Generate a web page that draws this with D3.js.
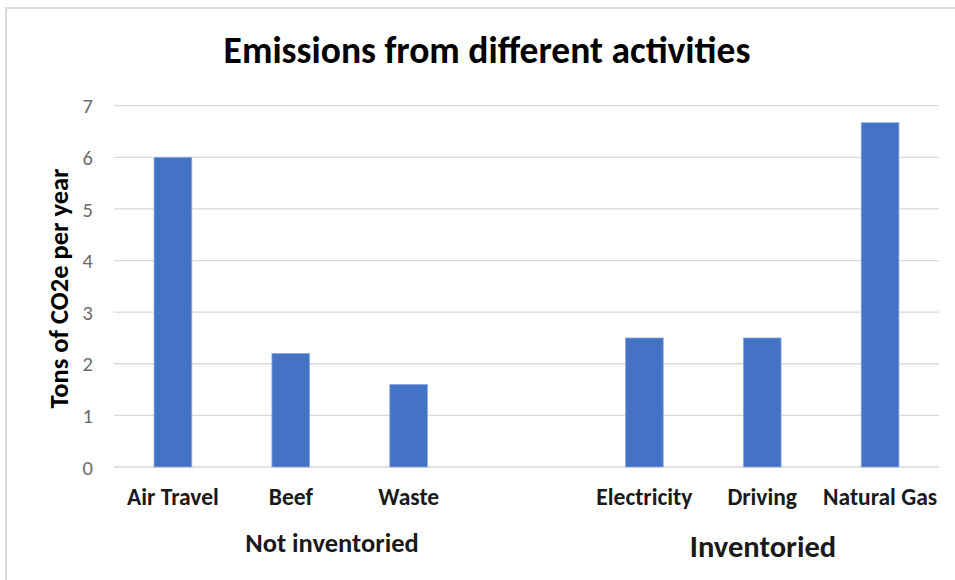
<!DOCTYPE html>
<html>
<head>
<meta charset="utf-8">
<script src="https://cdn.jsdelivr.net/npm/d3@7"></script>
<style>
  html, body { margin: 0; padding: 0; background: #fff; }
  svg text { font-family: Carlito, Calibri, Lato, "Open Sans", sans-serif; }
</style>
</head>
<body>
<svg id="chart" width="955" height="580"></svg>
<script>
// Emissions per activity, tons CO2e per year
const categories = ["Air Travel", "Beef", "Waste", "", "Electricity", "Driving", "Natural Gas"];
const values = [6.0, 2.2, 1.6, null, 2.5, 2.5, 6.67];
const groups = ["Not inventoried", "Inventoried"];
const yTicks = [0, 1, 2, 3, 4, 5, 6, 7];

const svg = d3.select("#chart");
const W = 955, H = 580;
const plot = { left: 114, right: 939, top: 105.7, bottom: 467 };

// chart frame
svg.append("rect")
  .attr("x", 6).attr("y", 8)
  .attr("width", W + 10).attr("height", H + 10)
  .attr("fill", "#fff")
  .attr("stroke", "#d9d9d9").attr("stroke-width", 2);

const x = d3.scaleBand()
  .domain(categories.map((c, i) => i))
  .range([plot.left, plot.right])
  .paddingInner(0.68).paddingOuter(0.34);

const y = d3.scaleLinear().domain([0, 7]).range([plot.bottom, plot.top]);

// gridlines
svg.append("g")
  .selectAll("line")
  .data(yTicks)
  .join("line")
  .attr("x1", plot.left).attr("x2", plot.right)
  .attr("y1", d => y(d)).attr("y2", d => y(d))
  .attr("stroke", "#d9d9d9").attr("stroke-width", 1.3);

// y axis tick labels
const yAxis = d3.axisLeft(y).tickValues(yTicks).tickFormat(d3.format("d")).tickSize(0).tickPadding(0);
const yg = svg.append("g").attr("transform", `translate(${plot.left - 21},0)`).call(yAxis);
yg.select(".domain").remove();
yg.selectAll("text")
  .attr("fill", "#6b6b6b")
  .style("font-size", "20.5px")
  .attr("dy", "0.35em");

// bars
svg.append("g")
  .selectAll("rect")
  .data(values.map((v, i) => ({ v, i })).filter(d => d.v !== null))
  .join("rect")
  .attr("x", d => x(d.i))
  .attr("width", x.bandwidth())
  .attr("y", d => y(d.v))
  .attr("height", d => y(0) - y(d.v))
  .attr("fill", "#4472c4")
  .attr("stroke", "#8faadc").attr("stroke-width", 0.8);

// category labels
const xAxis = d3.axisBottom(x).tickFormat(i => categories[i]).tickSize(0).tickPadding(0);
const xg = svg.append("g").attr("transform", `translate(0,${plot.bottom})`).call(xAxis);
xg.select(".domain").remove();
xg.selectAll("text")
  .attr("y", 38)
  .attr("dy", 0)
  .attr("fill", "#1a1a1a")
  .style("font-size", "23.5px")
  .style("font-weight", "bold");

// group labels
const groupStyle = {
  "Not inventoried": { cx: 332, y: 552, size: 26.5 },
  "Inventoried": { cx: 763, y: 557, size: 30.5 }
};
svg.append("g")
  .selectAll("text")
  .data(groups)
  .join("text")
  .attr("x", g => groupStyle[g].cx)
  .attr("y", g => groupStyle[g].y)
  .attr("text-anchor", "middle")
  .attr("fill", "#1a1a1a")
  .style("font-size", g => groupStyle[g].size + "px")
  .style("font-weight", "bold")
  .text(g => g);

// title
svg.append("text")
  .attr("x", 487).attr("y", 63)
  .attr("text-anchor", "middle")
  .attr("fill", "#000")
  .style("font-size", "37.5px")
  .style("font-weight", "bold")
  .text("Emissions from different activities");

// y axis title
svg.append("text")
  .attr("transform", `translate(68,288.5) rotate(-90)`)
  .attr("text-anchor", "middle")
  .attr("fill", "#000")
  .style("font-size", "26.5px")
  .style("font-weight", "bold")
  .text("Tons of CO2e per year");
</script>
</body>
</html>
